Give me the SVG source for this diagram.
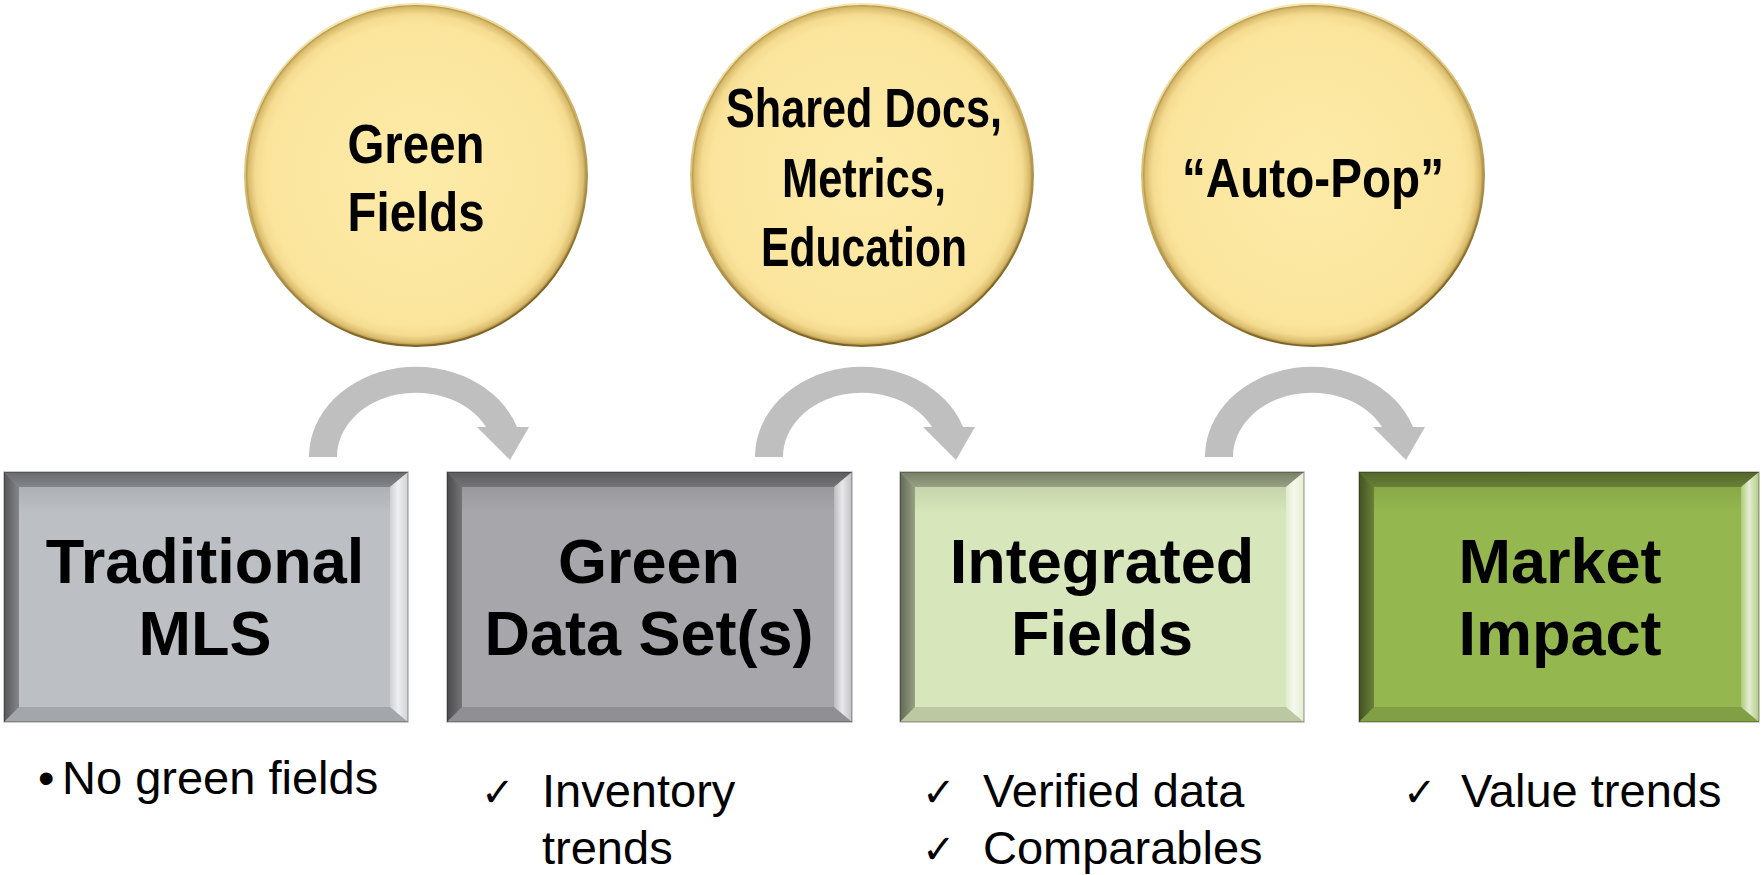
<svg xmlns="http://www.w3.org/2000/svg" width="1762" height="875" viewBox="0 0 1762 875">
  <defs>
    <!-- bubble fill: pale yellow with a darker beveled rim -->
    <radialGradient id="bubbleFill" cx="0.5" cy="0.5" r="0.5">
      <stop offset="0" stop-color="#FDEBA8"/>
      <stop offset="0.88" stop-color="#FBE59D"/>
      <stop offset="0.94" stop-color="#F4DB90"/>
      <stop offset="0.98" stop-color="#D9BB6C"/>
      <stop offset="1" stop-color="#A2843C"/>
    </radialGradient>
    <linearGradient id="bubbleRim" x1="0" y1="0" x2="0.3" y2="1">
      <stop offset="0" stop-color="#FFF3C4"/>
      <stop offset="0.5" stop-color="#D9BC70"/>
      <stop offset="1" stop-color="#7F6426"/>
    </linearGradient>
    <!-- bevel shading overlays -->
    <linearGradient id="bevLeft" x1="0" y1="0" x2="1" y2="0">
      <stop offset="0" stop-color="#000" stop-opacity="0.55"/>
      <stop offset="1" stop-color="#000" stop-opacity="0.3"/>
    </linearGradient>
    <linearGradient id="bevRight" x1="0" y1="0" x2="1" y2="0">
      <stop offset="0" stop-color="#fff" stop-opacity="0.25"/>
      <stop offset="0.45" stop-color="#fff" stop-opacity="0.75"/>
      <stop offset="1" stop-color="#fff" stop-opacity="0.3"/>
    </linearGradient>
    <linearGradient id="bevTop" x1="0" y1="0" x2="0" y2="1">
      <stop offset="0" stop-color="#000" stop-opacity="0.45"/>
      <stop offset="1" stop-color="#000" stop-opacity="0.3"/>
    </linearGradient>
    <linearGradient id="faceShade" x1="0" y1="0" x2="0" y2="1">
      <stop offset="0" stop-color="#000" stop-opacity="0.08"/>
      <stop offset="0.12" stop-color="#000" stop-opacity="0"/>
      <stop offset="1" stop-color="#000" stop-opacity="0"/>
    </linearGradient>
  </defs>
  <style>
    .bubble { fill: url(#bubbleFill); stroke: url(#bubbleRim); stroke-width: 2; }
    .bubbleText { font-family: "Liberation Sans", Arial, sans-serif; font-weight: bold; font-size: 56px; fill: #000; text-anchor: middle; }
    .boxText { font-family: "Liberation Sans", Arial, sans-serif; font-weight: bold; font-size: 63px; fill: #000; text-anchor: middle; }
    .noteText { font-family: "Liberation Sans", Arial, sans-serif; font-size: 47px; fill: #000; }
    .check { font-family: "DejaVu Sans", sans-serif; font-size: 40px; font-weight: bold; fill: #000; }
    .bevL { fill: url(#bevLeft); }
    .bevR { fill: url(#bevRight); }
    .bevT { fill: url(#bevTop); }
    .bevB { fill: #000; fill-opacity: 0.13; }
    .shade { fill: url(#faceShade); }
    .edge { fill: none; stroke: #000; stroke-opacity: 0.35; stroke-width: 1.2; }
    .flow { fill: #BFBFBF; }
  </style>

  <!-- top bubbles -->
  <g id="bubble-green-fields">
    <circle class="bubble" cx="416" cy="175" r="171"/>
    <text class="bubbleText" x="416" y="163" textLength="137" lengthAdjust="spacingAndGlyphs">Green</text>
    <text class="bubbleText" x="416" y="231" textLength="137" lengthAdjust="spacingAndGlyphs">Fields</text>
  </g>
  <g id="bubble-shared-docs">
    <circle class="bubble" cx="862" cy="175" r="171"/>
    <text class="bubbleText" x="864" y="127" textLength="276" lengthAdjust="spacingAndGlyphs">Shared Docs,</text>
    <text class="bubbleText" x="864" y="197" textLength="164" lengthAdjust="spacingAndGlyphs">Metrics,</text>
    <text class="bubbleText" x="864" y="266" textLength="206" lengthAdjust="spacingAndGlyphs">Education</text>
  </g>
  <g id="bubble-auto-pop">
    <circle class="bubble" cx="1313" cy="175" r="171"/>
    <text class="bubbleText" x="1313" y="197" textLength="262" lengthAdjust="spacingAndGlyphs">“Auto-Pop”</text>
  </g>

  <!-- curved flow arrows between stages -->
  <g id="connectors">
    <path id="flowArrow" class="flow" d="M309,457 A107,90 0 0 1 517,427 L529,427 L510,460 L477,427 L486,427 A79,64 0 0 0 337,457 Z"/>
    <use href="#flowArrow" x="446"/>
    <use href="#flowArrow" x="896"/>
  </g>

  <!-- stage boxes -->
  <g id="box-traditional-mls">
    <rect x="4" y="472" width="404" height="250" fill="#BCBFC4"/>
    <rect class="shade" x="19" y="487" width="371" height="220"/>
    <polygon class="bevT" points="4,472 408,472 390,487 19,487"/>
    <polygon class="bevL" points="4,472 19,487 19,707 4,722"/>
    <polygon class="bevR" points="408,472 408,722 390,707 390,487"/>
    <polygon class="bevB" points="4,722 19,707 390,707 408,722"/>
    <rect class="edge" x="4" y="472" width="404" height="250"/>
    <text class="boxText" x="205" y="583">Traditional</text>
    <text class="boxText" x="205" y="655">MLS</text>
  </g>
  <g id="box-green-data-sets">
    <rect x="447" y="472" width="405" height="250" fill="#A6A6AB"/>
    <rect class="shade" x="462" y="487" width="372" height="220"/>
    <polygon class="bevT" points="447,472 852,472 834,487 462,487"/>
    <polygon class="bevL" points="447,472 462,487 462,707 447,722"/>
    <polygon class="bevR" points="852,472 852,722 834,707 834,487"/>
    <polygon class="bevB" points="447,722 462,707 834,707 852,722"/>
    <rect class="edge" x="447" y="472" width="405" height="250"/>
    <text class="boxText" x="649" y="583">Green</text>
    <text class="boxText" x="649" y="655">Data Set(s)</text>
  </g>
  <g id="box-integrated-fields">
    <rect x="900" y="472" width="404" height="250" fill="#D8E6BB"/>
    <rect class="shade" x="915" y="487" width="371" height="220"/>
    <polygon class="bevT" points="900,472 1304,472 1286,487 915,487"/>
    <polygon class="bevL" points="900,472 915,487 915,707 900,722"/>
    <polygon class="bevR" points="1304,472 1304,722 1286,707 1286,487"/>
    <polygon class="bevB" points="900,722 915,707 1286,707 1304,722"/>
    <rect class="edge" x="900" y="472" width="404" height="250"/>
    <text class="boxText" x="1102" y="583">Integrated</text>
    <text class="boxText" x="1102" y="655">Fields</text>
  </g>
  <g id="box-market-impact">
    <rect x="1359" y="472" width="400" height="250" fill="#95B74F"/>
    <rect class="shade" x="1374" y="487" width="367" height="220"/>
    <polygon class="bevT" points="1359,472 1759,472 1741,487 1374,487"/>
    <polygon class="bevL" points="1359,472 1374,487 1374,707 1359,722"/>
    <polygon class="bevR" points="1759,472 1759,722 1741,707 1741,487"/>
    <polygon class="bevB" points="1359,722 1374,707 1741,707 1759,722"/>
    <rect class="edge" x="1359" y="472" width="400" height="250"/>
    <text class="boxText" x="1560" y="583">Market</text>
    <text class="boxText" x="1560" y="655">Impact</text>
  </g>

  <!-- notes under each stage -->
  <g id="note-traditional">
    <text class="noteText" x="38" y="794">•</text>
    <text class="noteText" x="62" y="794">No green fields</text>
  </g>
  <g id="note-green-data">
    <text class="check" x="481" y="806">✓</text>
    <text class="noteText" x="542" y="807">Inventory</text>
    <text class="noteText" x="542" y="864">trends</text>
  </g>
  <g id="note-integrated">
    <text class="check" x="922" y="806">✓</text>
    <text class="noteText" x="983" y="807">Verified data</text>
    <text class="check" x="922" y="863">✓</text>
    <text class="noteText" x="983" y="864">Comparables</text>
  </g>
  <g id="note-market">
    <text class="check" x="1403" y="806">✓</text>
    <text class="noteText" x="1461" y="807">Value trends</text>
  </g>
</svg>
